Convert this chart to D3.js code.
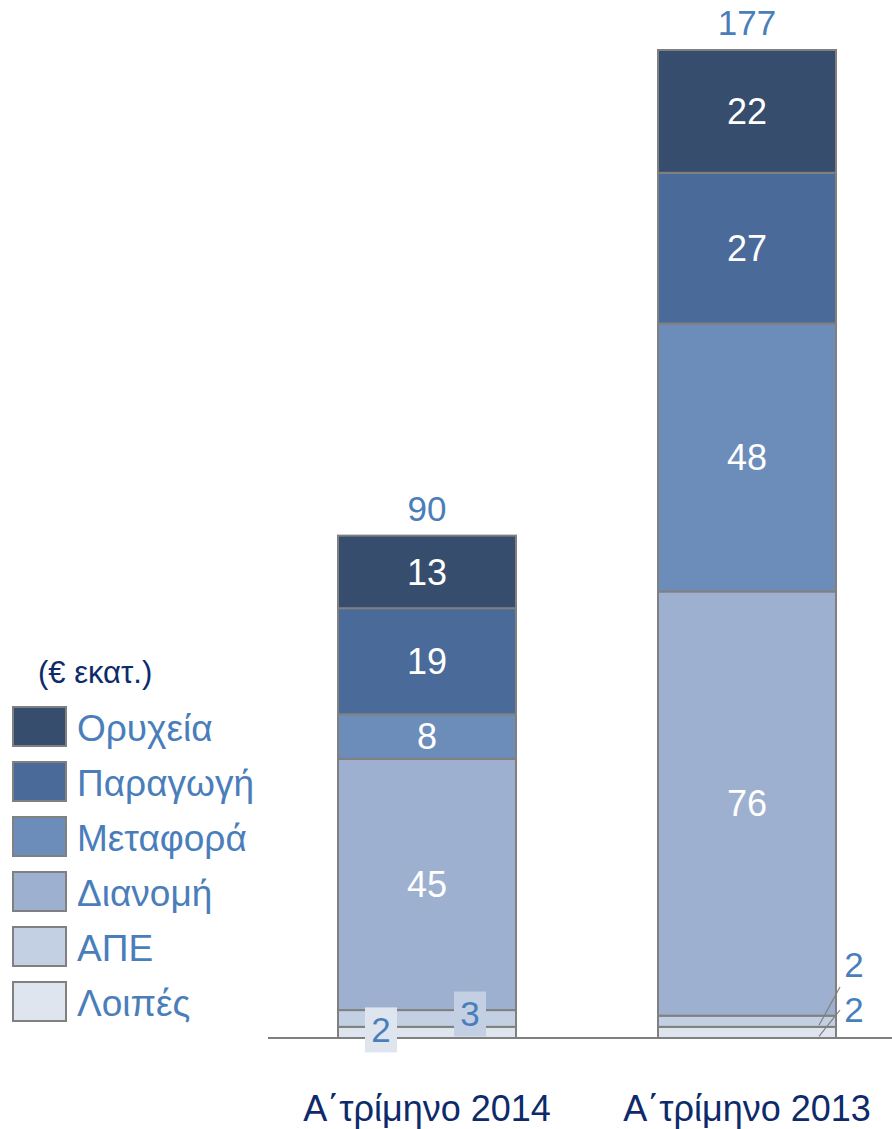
<!DOCTYPE html>
<html>
<head>
<meta charset="utf-8">
<script src="https://cdn.jsdelivr.net/npm/d3@7"></script>
<style>
  body { margin: 0; background: #fff; }
  text { font-family: "Liberation Sans", Arial, sans-serif; }
</style>
</head>
<body>
<svg id="chart" width="892" height="1129"></svg>
<script>
// data
var categories = ["Α΄τρίμηνο 2014", "Α΄τρίμηνο 2013"];
var series = ["Λοιπές", "ΑΠΕ", "Διανομή", "Μεταφορά", "Παραγωγή", "Ορυχεία"];
var loipes    = [2, 2];
var ape       = [3, 2];
var dianomi   = [45, 76];
var metafora  = [8, 48];
var paragogi  = [19, 27];
var oryxeia   = [13, 22];
var totals    = [90, 177];
var colors = ["#dee5ef", "#c3cfe2", "#9db0cf", "#6c8dba", "#4a6a99", "#374d6e"];

var rows = categories.map(function (c, i) {
  return { cat: c, "Λοιπές": loipes[i], "ΑΠΕ": ape[i], "Διανομή": dianomi[i],
           "Μεταφορά": metafora[i], "Παραγωγή": paragogi[i], "Ορυχεία": oryxeia[i] };
});

var svg = d3.select("#chart");
var baseY = 1038, topY = 50;

var x = d3.scaleBand().domain(categories).range([338, 836]).paddingInner(0.44375).paddingOuter(0);
var y = d3.scaleLinear().domain([0, 177]).range([baseY, topY]);
var color = d3.scaleOrdinal().domain(series).range(colors);

var stacked = d3.stack().keys(series)(rows);

// bars
var layers = svg.append("g").selectAll("g")
  .data(stacked).enter().append("g")
  .attr("fill", function (d) { return color(d.key); });

layers.selectAll("rect")
  .data(function (d) { return d; })
  .enter().append("rect")
    .attr("x", function (d) { return x(d.data.cat); })
    .attr("y", function (d) { return y(d[1]); })
    .attr("width", x.bandwidth())
    .attr("height", function (d) { return y(d[0]) - y(d[1]); })
    .attr("stroke", "#808080")
    .attr("stroke-width", 2);

// axis line
svg.append("line")
  .attr("x1", 268).attr("x2", 892)
  .attr("y1", baseY).attr("y2", baseY)
  .attr("stroke", "#808080").attr("stroke-width", 2);

// white labels in the large segments
stacked.forEach(function (layer, li) {
  if (li < 2) return;
  layer.forEach(function (d) {
    svg.append("text")
      .attr("x", x(d.data.cat) + x.bandwidth() / 2)
      .attr("y", y((d[0] + d[1]) / 2))
      .attr("dy", "0.35em")
      .attr("text-anchor", "middle")
      .attr("fill", "#fff")
      .attr("font-size", 36)
      .text(d[1] - d[0]);
  });
});

// small labels, 2014 bar: boxed labels
var lblBlue = "#4a7ebb";
[[0, 43, -3], [1, 132, -5]].forEach(function (s) {
  var d = stacked[s[0]][0];
  var cx = x(d.data.cat) + s[1];
  var cy = y((d[0] + d[1]) / 2) + s[2];
  svg.append("rect")
    .attr("x", cx - 16).attr("y", cy - 22)
    .attr("width", 32).attr("height", 45)
    .attr("fill", color(series[s[0]]));
  svg.append("text")
    .attr("x", cx).attr("y", cy)
    .attr("dy", "0.35em")
    .attr("text-anchor", "middle")
    .attr("fill", lblBlue)
    .attr("font-size", 35)
    .text(d[1] - d[0]);
});

// small labels, 2013 bar: outside with leader lines
[[0, 1010], [1, 965]].forEach(function (s) {
  var d = stacked[s[0]][1];
  var right = x(d.data.cat) + x.bandwidth();
  var my = y((d[0] + d[1]) / 2);
  svg.append("line")
    .attr("x1", right - 17).attr("y1", my + 4)
    .attr("x2", right + 4).attr("y2", s[1] + (s[0] === 0 ? 0 : 22))
    .attr("stroke", "#808080").attr("stroke-width", 1.2);
  svg.append("text")
    .attr("x", right + 18).attr("y", s[1])
    .attr("dy", "0.35em")
    .attr("text-anchor", "middle")
    .attr("fill", lblBlue)
    .attr("font-size", 35)
    .text(d[1] - d[0]);
});

// totals
categories.forEach(function (c, i) {
  svg.append("text")
    .attr("x", x(c) + x.bandwidth() / 2)
    .attr("y", y(totals[i]) - 27)
    .attr("dy", "0.35em")
    .attr("text-anchor", "middle")
    .attr("fill", lblBlue)
    .attr("font-size", 35)
    .text(totals[i]);
});

// category labels
categories.forEach(function (c) {
  svg.append("text")
    .attr("x", x(c) + x.bandwidth() / 2)
    .attr("y", 1108)
    .attr("dy", "0.35em")
    .attr("text-anchor", "middle")
    .attr("fill", "#0d2a6b")
    .attr("font-size", 36)
    .text(c);
});

// legend
svg.append("text")
  .attr("x", 38).attr("y", 672)
  .attr("dy", "0.35em")
  .attr("fill", "#0d2a6b")
  .attr("font-size", 31)
  .text("(€ εκατ.)");

var legendKeys = series.slice().reverse();
var legend = svg.append("g").selectAll("g")
  .data(legendKeys).enter().append("g")
  .attr("transform", function (d, i) { return "translate(13," + (707 + i * 55) + ")"; });

legend.append("rect")
  .attr("width", 53).attr("height", 39)
  .attr("fill", function (d) { return color(d); })
  .attr("stroke", "#808080").attr("stroke-width", 2);

legend.append("text")
  .attr("x", 64).attr("y", 21)
  .attr("dy", "0.35em")
  .attr("fill", lblBlue)
  .attr("font-size", 37)
  .text(function (d) { return d; });
</script>
</body>
</html>
